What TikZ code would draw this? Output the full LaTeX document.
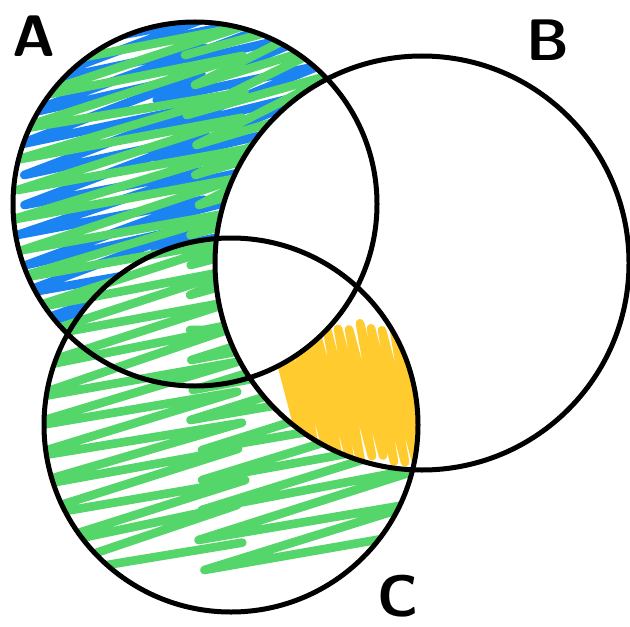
\documentclass[tikz,border=0pt]{standalone}
\usepackage{tikz}
\usetikzlibrary{positioning}
\definecolor{scribgreen}{HTML}{55D66B}
\definecolor{scribblue}{HTML}{1B84F2}
\definecolor{scribyellow}{HTML}{FFCB2E}

\begin{document}
\begin{tikzpicture}[x=0.3mm, y=-0.3mm,
    ring/.style={draw=black, line width=1.5mm},
    scrib/.style={line width=2.6mm, line join=round, line cap=round},
    lbl/.style={font=\sffamily\bfseries\fontsize{50}{52}\selectfont}]
  \useasboundingbox (0,0) rectangle (630,626);
  \pgfmathsetseed{7}

  \coordinate (cA) at (195,204);
  \coordinate (cB) at (422,263);
  \coordinate (cC) at (231,425);

  % blue: A only
  \begin{scope}[even odd rule]
    \clip (cA) circle[radius=182];
    \clip (-50,-50) rectangle (700,700) (cB) circle[radius=207];
    \clip (-50,-50) rectangle (700,700) (cC) circle[radius=187];
    \foreach \xl/\xr/\ys/\n in {15/200/55/10, 150/320/40/9}
      \draw[scrib, scribblue] (\xl,\ys)
        \foreach \i in {0,...,\n} { -- ({\xl+12*rnd}, {\ys+\i*30}) -- ({\xr+12*rnd}, {\ys-42+\i*30+8*rnd}) };
  \end{scope}

  % green: A or C, not B
  \begin{scope}
    \clip (cA) circle[radius=182] (cC) circle[radius=187];
    \begin{scope}[even odd rule]
      \clip (-50,-50) rectangle (700,700) (cB) circle[radius=207];
      \foreach \xl/\xr/\ys/\n in {10/235/70/17, 185/330/55/8, 190/420/330/8}
        \draw[scrib, scribgreen] (\xl,\ys)
          \foreach \i in {0,...,\n} { -- ({\xl+15*rnd}, {\ys+\i*30}) -- ({\xr+12*rnd}, {\ys-45+\i*30+8*rnd}) };
    \end{scope}
  \end{scope}

  % yellow: B and C, not A
  \begin{scope}[even odd rule]
    \clip (cB) circle[radius=207];
    \clip (cC) circle[radius=187];
    \clip (-50,-50) rectangle (700,700) (cA) circle[radius=182];
    \draw[scrib, scribyellow] (272,330)
      \foreach \i in {0,...,13} { -- ({272+\i*11}, {322+10*rnd}) -- ({306+\i*11}, {455+8*rnd}) };
  \end{scope}

  \draw[ring] (cA) circle[radius=182];
  \draw[ring] (cB) circle[radius=207];
  \draw[ring] (cC) circle[radius=187];

  \node[lbl] (labA) at (34,36) {A};
  \node[lbl] (labB) at (548,40) {B};
  \node[lbl] (labC) at (398,596) {C};
\end{tikzpicture}
\end{document}
